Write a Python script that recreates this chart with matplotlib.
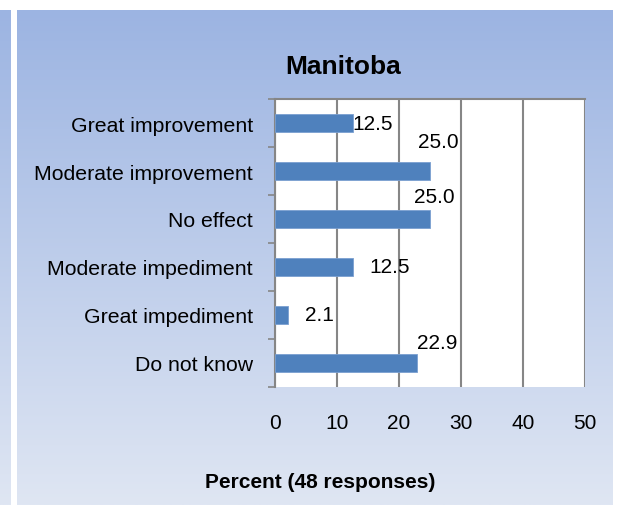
import numpy as np
import matplotlib.pyplot as plt
from matplotlib.colors import LinearSegmentedColormap

plt.rcParams['font.family'] = ['Liberation Sans', 'DejaVu Sans']

# data
categories = ["Great improvement", "Moderate improvement", "No effect",
              "Moderate impediment", "Great impediment", "Do not know"]
percent = [12.5, 25.0, 25.0, 12.5, 2.1, 22.9]
x_ticks = [0, 10, 20, 30, 40, 50]

# where each value label sits relative to the bar end (points)
label_offsets = [(0, 0), (6, 21), (3, 16), (12, 0), (12, 0), (0, 15)]
label_ha = ["left", "center", "center", "left", "left", "left"]

W, H = 618, 506
fig = plt.figure(figsize=(W / 100, H / 100), dpi=100)
fig.patch.set_facecolor("white")

grad = LinearSegmentedColormap.from_list("bg", ["#9cb4e2", "#dfe6f3"])
g = np.linspace(0, 1, 256).reshape(-1, 1)

# left strip and main panel backgrounds
for rect in ([0, 0, 11 / W, 495 / H], [17 / W, 0, 596 / W, 495 / H]):
    bg = fig.add_axes(rect, zorder=0)
    bg.imshow(g, aspect="auto", cmap=grad, extent=[0, 1, 0, 1])
    bg.set_axis_off()

ax = fig.add_axes([275 / W, 118 / H, 310 / W, 288 / H], zorder=2)
ax.set_facecolor("white")
y = np.arange(len(categories))
ax.barh(y, percent, height=0.375, color="#4f81bd", edgecolor="#7a9fd0",
        linewidth=0.6, zorder=3)

ax.set_xlim(0, 50)
ax.set_ylim(len(categories) - 0.5, -0.5)
ax.set_xticks(x_ticks)
ax.set_xticklabels([str(t) for t in x_ticks], fontsize=15)
ax.tick_params(axis="x", length=0, pad=19)
ax.set_yticks(y)
ax.set_yticklabels(categories, fontsize=15.3)
ax.tick_params(axis="y", which="major", length=0, pad=16)
ax.set_yticks(np.arange(-0.5, len(categories), 1), minor=True)
ax.tick_params(axis="y", which="minor", length=5, color="#868686", width=1.2)
ax.grid(axis="x", color="#868686", linewidth=1.5, zorder=1)

for side in ["right", "bottom"]:
    ax.spines[side].set_visible(False)
ax.spines["left"].set_color("#868686")
ax.spines["left"].set_linewidth(1.5)
ax.spines["top"].set_color("#868686")
ax.spines["top"].set_linewidth(1.5)

for i, v in enumerate(percent):
    ax.annotate(f"{v:.1f}", (v, i), xytext=label_offsets[i],
                textcoords="offset points", ha=label_ha[i], va="center",
                fontsize=15, zorder=4)

fig.text(343 / W, 1 - 67 / H, "Manitoba", ha="center", va="center",
         fontsize=19, fontweight="bold")
fig.text(320 / W, 1 - 482 / H, "Percent (48 responses)", ha="center",
         va="center", fontsize=15, fontweight="bold")

fig.savefig("out.png", dpi=100)
